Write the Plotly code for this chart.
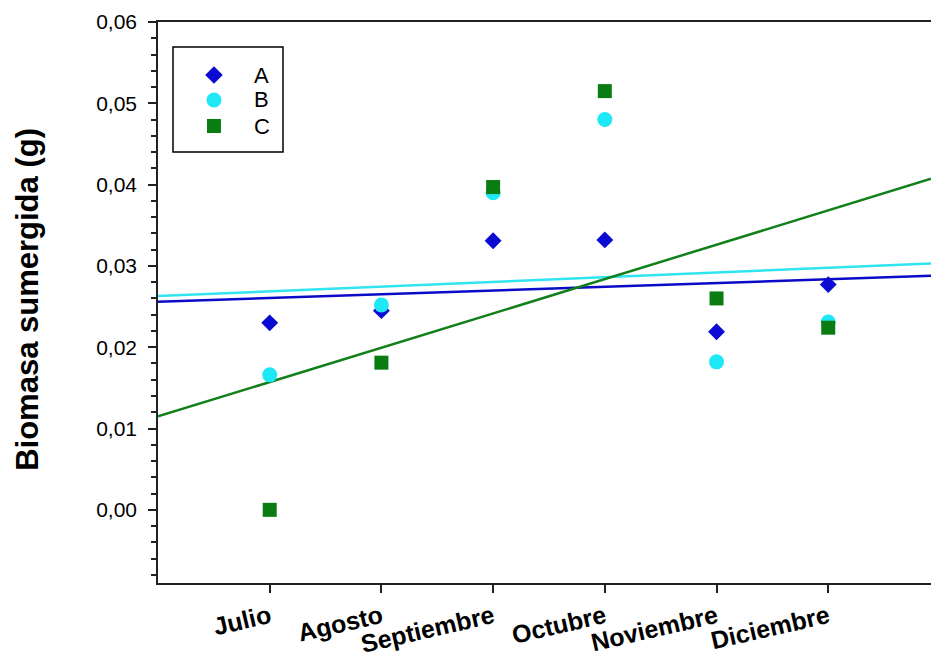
import plotly.graph_objects as go
import numpy as np

months = ["Julio", "Agosto", "Septiembre", "Octubre", "Noviembre", "Diciembre"]
month_pos = [1, 2, 3, 4, 5, 6]

serie_A = [0.0230, 0.0245, 0.0331, 0.0332, 0.0219, 0.0277]
serie_B = [0.0166, 0.0252, 0.0390, 0.0480, 0.0182, 0.0231]
serie_C = [0.0000, 0.0181, 0.0397, 0.0515, 0.0260, 0.0224]

# regression lines (intercept at x=0, slope per month)
fit_intercept = {"A": 0.02558, "B": 0.02630, "C": 0.01149}
fit_slope = {"A": 0.000462, "B": 0.000578, "C": 0.004223}

y_ticks = [0.00, 0.01, 0.02, 0.03, 0.04, 0.05, 0.06]
series_names = ["A", "B", "C"]

colors = {"A": "#0a0ad2", "B": "#1ee8f5", "C": "#0a7d12"}
line_colors = {"A": "#0a0ac8", "B": "#30e4f0", "C": "#12801a"}
symbols = {"A": "diamond", "B": "circle", "C": "square"}
sizes = {"A": 13, "B": 15, "C": 14}

FONT = "Arial, Liberation Sans, sans-serif"
XMAX = 6.92

fig = go.Figure()

# fit lines
xl = np.array([0.0, XMAX])
for k in series_names:
    fig.add_trace(go.Scatter(
        x=xl, y=fit_intercept[k] + fit_slope[k] * xl, mode="lines",
        line=dict(color=line_colors[k], width=2.5), showlegend=False,
        hoverinfo="skip"))

for k, vals in zip(series_names, [serie_A, serie_B, serie_C]):
    fig.add_trace(go.Scatter(
        x=month_pos, y=vals, mode="markers", name=k, showlegend=False,
        marker=dict(symbol=symbols[k], size=sizes[k], color=colors[k],
                    opacity=1, line=dict(width=0))))

# hand-built legend (box, symbols on an overlay axis, labels)
leg_sym_x = 0.0724
leg_txt_x = 0.1216
leg_rows_y = [0.9055, 0.861, 0.8146]
fig.add_trace(go.Scatter(
    x=[leg_sym_x] * 3, y=leg_rows_y, mode="markers", xaxis="x2", yaxis="y2",
    showlegend=False, hoverinfo="skip",
    marker=dict(symbol=[symbols[k] for k in series_names],
                size=[13.5, 15, 14], opacity=1,
                color=[colors[k] for k in series_names], line=dict(width=0))))

annotations = [dict(text="<b>Biomasa sumergida (g)</b>", textangle=-90,
                    xref="paper", yref="paper", x=-0.168, y=0.505,
                    xanchor="center", yanchor="middle", showarrow=False,
                    font=dict(size=31, family=FONT, color="black"))]
for k, yy in zip(series_names, leg_rows_y):
    annotations.append(dict(text=k, xref="paper", yref="paper", x=leg_txt_x,
                            y=yy, xanchor="left", yanchor="middle",
                            showarrow=False,
                            font=dict(size=22, family=FONT, color="black")))

fig.update_layout(
    width=931, height=660,
    margin=dict(l=158, r=0, t=22, b=77),
    paper_bgcolor="white", plot_bgcolor="white",
    separators=",.",
    font=dict(family=FONT, color="black"),
    showlegend=False,
    xaxis=dict(range=[0, XMAX], tickvals=month_pos, ticktext=months,
               tickangle=-13, ticks="outside", ticklen=8, tickwidth=1.5,
               tickcolor="#222", showline=True, linecolor="#222",
               linewidth=1.5, mirror=True, showgrid=False, zeroline=False,
               tickfont=dict(size=25, family=FONT, weight="bold")),
    yaxis=dict(range=[-0.009, 0.06], tickvals=y_ticks, tickformat=".2f",
               ticks="outside", ticklen=8, tickwidth=1.5, tickcolor="#222",
               showline=True, linecolor="#222", linewidth=1.5,
               showgrid=False, zeroline=False, ticklabelstandoff=7,
               tickfont=dict(size=21, family=FONT),
               minor=dict(dtick=0.002, tick0=0, ticks="outside", ticklen=5,
                          tickwidth=1.5, tickcolor="#222", showgrid=False)),
    xaxis2=dict(range=[0, 1], domain=[0, 1], overlaying="x", visible=False,
                anchor="y2", fixedrange=True),
    yaxis2=dict(range=[0, 1], domain=[0, 1], overlaying="y", visible=False,
                anchor="x2", fixedrange=True),
    shapes=[dict(type="rect", xref="paper", yref="paper",
                 x0=0.0194, x1=0.1617, y0=0.7683, y1=0.9554,
                 line=dict(color="black", width=1.5), fillcolor="rgba(0,0,0,0)",
                 layer="below")],
    annotations=annotations,
)

fig.write_html("out.html")
